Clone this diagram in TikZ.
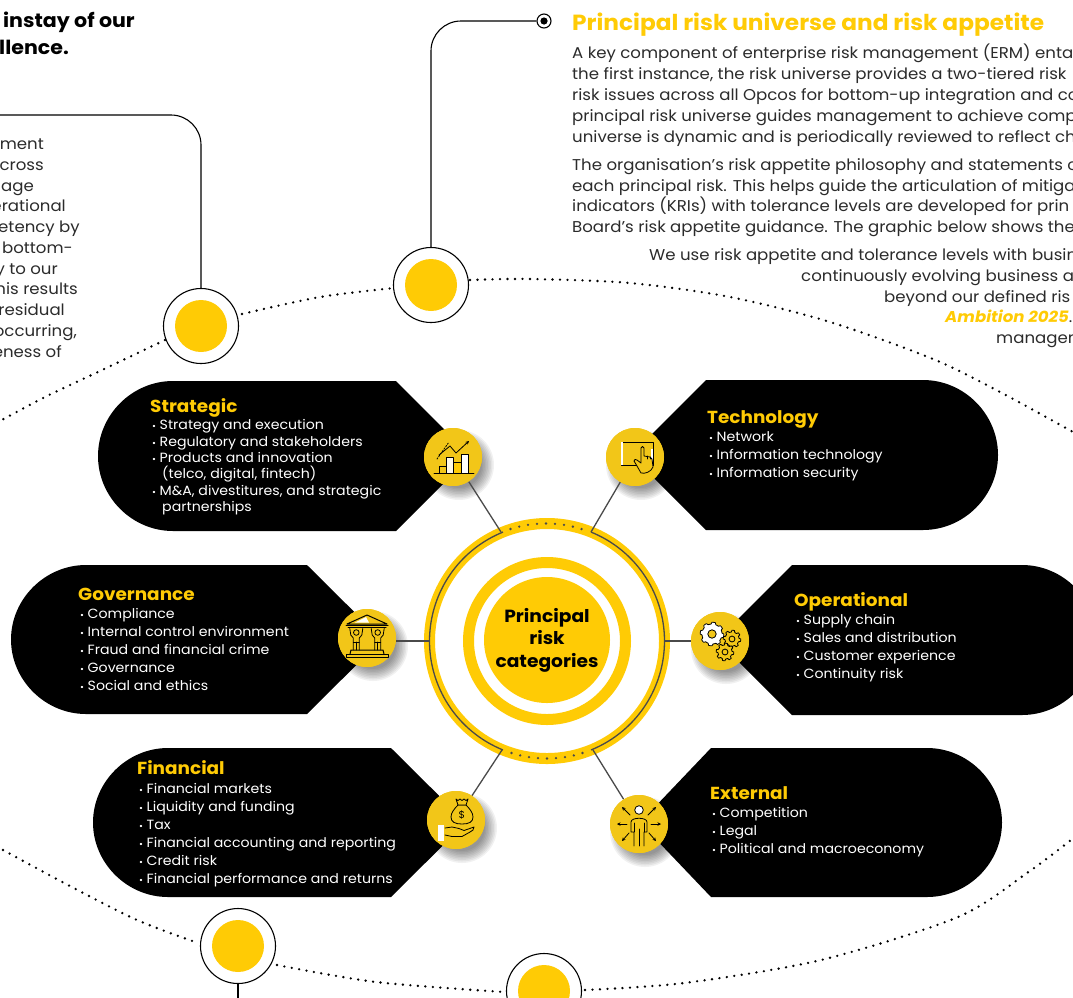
\documentclass[tikz,border=0pt]{standalone}
\usepackage{fontspec}
\setmainfont[FakeStretch=1.06]{Poppins}
\usetikzlibrary{arrows.meta}
\definecolor{ky}{HTML}{FFCB05}
\definecolor{kicon}{HTML}{F2C618}
\definecolor{bodyc}{HTML}{2B2B2B}
\definecolor{conn}{HTML}{4A4A4A}
\newcommand\fs[2]{\fontsize{#1pt}{#2pt}\selectfont}
\newcommand\bul{\makebox[7.5pt][l]{\fontsize{9pt}{9pt}\selectfont •}}
\newcommand\blobL[5]{% corner x, top, bottom, tip x, round-centre x
  \fill[black] (#1,#2) -- (#4,{(#2+#3)/2}) -- (#1,#3) -- (#5,#3)
    .. controls ({#5-41},#3) and ({#5-75},{#3-34}) .. ({#5-75},{(#2+#3)/2})
    .. controls ({#5-75},{#2+34}) and ({#5-41},#2) .. (#5,#2) -- cycle;}
\newcommand\blobR[5]{%
  \fill[black] (#1,#2) -- (#4,{(#2+#3)/2}) -- (#1,#3) -- (#5,#3)
    .. controls ({#5+41},#3) and ({#5+75},{#3-34}) .. ({#5+75},{(#2+#3)/2})
    .. controls ({#5+75},{#2+34}) and ({#5+41},#2) .. (#5,#2) -- cycle;}
\newcommand\softshadow[2]{%
  \foreach \rr in {23,24.5,...,36}{\fill[black,opacity=0.055] ({#1+6},{#2+8}) circle[radius=\rr];}}
\newcommand\gear[4]{% x,y,r,fill
  \draw[icon,fill=#4] plot[domain=0:360,samples=65] ({#1+(#3+(mod(\x,45)<22.5?1.8:0))*cos(\x)},{#2+(#3+(mod(\x,45)<22.5?1.8:0))*sin(\x)}) -- cycle;
  \draw[icon,fill=kicon] (#1,#2) circle[radius={#3*0.42}];}
\tikzset{
  x=1pt,y=-1pt,
  body/.style={anchor=base west,inner sep=0pt,text=bodyc,font=\fs{15.65}{18}},
  bodyr/.style={anchor=base east,inner sep=0pt,text=bodyc,font=\fs{15.65}{18}},
  heading/.style={anchor=base east,inner sep=0pt,text=black,font=\fs{19.4}{22}\bfseries},
  cattitle/.style={anchor=base west,inner sep=0pt,text=ky,font=\fs{17.4}{20}\bfseries},
  item/.style={anchor=base west,inner sep=0pt,text=white,font=\fs{13.35}{16}},
  hub/.style={circle,draw=black,fill=white,line width=1.1pt,minimum size=75pt,inner sep=0pt},
  hubdisc/.style={circle,fill=ky,minimum size=52pt,inner sep=0pt},
  catdisc/.style={circle,fill=kicon,minimum size=58pt,inner sep=0pt},
  thread/.style={draw=black,line width=1.1pt,rounded corners=30pt},
  dotline/.style={draw=black,line width=2.6pt,line cap=round,dash pattern=on 0pt off 7.5pt},
  spoke/.style={draw=conn,line width=1.3pt},
  icon/.style={draw=black,line width=0.8pt,line join=round,line cap=round},
  iconarrow/.style={icon,-{Stealth[length=3.5pt,width=3.5pt]}},
}
\begin{document}
\begin{tikzpicture}
\clip (0,0) rectangle (1073,997);
\fill[white] (0,0) rectangle (1073,997);

% dotted orbit
\draw[dotline] plot[smooth] coordinates {(165,340) (100,371) (45,397) (0,421)};
\draw[dotline] plot[smooth] coordinates {(242,314) (320,297) (394,288)};
\draw[dotline] plot[smooth] coordinates {(470,280) (530,279) (630,283) (730,297) (830,322) (933,359) (1000,392) (1073,432)};
\draw[dotline] plot[smooth] coordinates {(3,850) (68,885) (137,920) (198,943)};
\draw[dotline] plot[smooth] coordinates {(277,965) (376,982) (504,992)};
\draw[dotline] plot[smooth] coordinates {(585,990) (684,983) (821,960) (958,917) (1027,873) (1071,840)};

% hubs on the orbit
\node[hub] (h1) at (201,326) {};
\node[hub] (h2) at (431,285) {};
\node[hub] (h3) at (238,946) {};
\node[hub] (h4) at (544,991) {};
\node[hubdisc] at (h1) {};
\node[hubdisc] at (h2) {};
\node[hubdisc] at (h3) {};
\node[hubdisc] at (h4) {};

% threads
\node[circle,draw=black,fill=white,line width=1.1pt,minimum size=14pt,inner sep=0pt] (target) at (544,21) {};
\fill[black] (target.center) circle[radius=3.6];
\coordinate (leftend) at (-5,115);
\coordinate (botend) at (238,1005);
\draw[thread] (h2.north) -- (h2.north |- target.west) -- (target.west);
\draw[thread] (h1.north) -- (h1.north |- leftend) -- (leftend);
\draw[thread] (h3.south) -- (botend);

% texts, top
\node[heading] (hd1) at (135,27) {instay of our};
\node[heading] (hd2) at (69,54) {llence.};
\node[anchor=base west,inner sep=0pt,text=ky,font=\fs{21.9}{24}\bfseries] (title) at (572,30) {Principal risk universe and risk appetite};

\node[body] (p1) at (572,58) {A key component of enterprise risk management (ERM) enta};
\node[body] (p2) at (572,79) {the first instance, the risk universe provides a two-tiered risk};
\node[body] (p3) at (572,100) {risk issues across all Opcos for bottom-up integration and co};
\node[body] (p4) at (572,121) {principal risk universe guides management to achieve comp};
\node[body] (p5) at (572,142) {universe is dynamic and is periodically reviewed to reflect ch};
\node[body] (p6) at (572,170) {The organisation’s risk appetite philosophy and statements o};
\node[body] (p7) at (572,191) {each principal risk. This helps guide the articulation of mitiga};
\node[body] (p8) at (572,211) {indicators (KRIs) with tolerance levels are developed for prin};
\node[body] (p9) at (572,232) {Board’s risk appetite guidance. The graphic below shows the};
\node[body] (q1) at (649,260) {We use risk appetite and tolerance levels with busin};
\node[body] (q2) at (801,281) {continuously evolving business a};
\node[body] (q3) at (884,302) {beyond our defined ris};
\node[body] (q4) at (945,322) {\textcolor{ky}{\bfseries\itshape Ambition 2025}.};
\node[body] (q5) at (996,343) {managem};

\node[bodyr] (l1) at (44,149) {ement};
\node[bodyr] (l2) at (44,170) {cross};
\node[bodyr] (l3) at (34,191) {nage};
\node[bodyr] (l4) at (66,211) {erational};
\node[bodyr] (l5) at (80,232) {etency by};
\node[bodyr] (l6) at (73,253) {l bottom-};
\node[bodyr] (l7) at (58,274) {y to our};
\node[bodyr] (l8) at (78,294) {his results};
\node[bodyr] (l9) at (65,315) {residual};
\node[bodyr] (l10) at (77,336) {occurring,};
\node[bodyr] (l11) at (62,357) {eness of};

% category blobs
\blobL{396}{381}{531}{471}{173}
\blobR{706}{380}{530}{631}{923}
\blobL{307}{565}{714}{382}{86}
\blobR{792}{565}{715}{717}{1022}
\blobL{391}{748}{897}{466}{168}
\blobR{711}{748}{897}{640}{927}

% central rings
\node[circle,draw=ky,line width=11pt,fill=white,minimum size=235pt,inner sep=0pt] (ring) at (547,641) {};
\node[circle,draw=ky,line width=11pt,fill=white,minimum size=157pt,inner sep=0pt] (ring2) at (547,641) {};
\node[circle,fill=ky,minimum size=126pt,inner sep=0pt,align=center,font=\fs{17.6}{22.5}\bfseries,text=black] (core) at (547,640) {Principal\\risk\\categories};

% thin ring and dots
\draw[conn,line width=1.3pt] plot[domain=-68:68,samples=70] ({547+117.5*cos(\x)},{641+117.5*sin(\x)});
\draw[conn,line width=1.3pt] plot[domain=112:248,samples=70] ({547+117.5*cos(\x)},{641+117.5*sin(\x)});
\foreach \a in {-4,...,4}{
  \fill[conn] ({546+117.5*sin(\a*4.4)},{641-117.5*cos(\a*4.4)}) circle[radius=1.3];
  \fill[conn] ({547+117.5*sin(\a*4.4)},{641+117.5*cos(\a*4.4)}) circle[radius=1.3];
}

% shadows
\softshadow{453}{457}
\softshadow{635}{457}
\softshadow{367}{638}
\softshadow{720}{641}
\softshadow{456}{820}
\softshadow{639}{824}

% icon discs
\node[catdisc] (cs) at (453,457) {};
\node[catdisc] (ct) at (635,457) {};
\node[catdisc] (cg) at (367,638) {};
\node[catdisc] (co) at (720,641) {};
\node[catdisc] (cf) at (456,820) {};
\node[catdisc] (ce) at (639,824) {};

% ring anchors and spokes
\coordinate (rs) at (501,532);
\coordinate (rt) at (591,532);
\coordinate (rg) at (429,641);
\coordinate (ro) at (665,641);
\coordinate (rf) at (502,750);
\coordinate (re) at (593,750);
\draw[spoke] (cs) -- (rs);
\draw[spoke] (ct) -- (rt);
\draw[spoke] (cg.east |- rg) -- (rg);
\draw[spoke] (co) -- (ro);
\draw[spoke] (cf) -- (rf);
\draw[spoke] (ce) -- (re);
\node[catdisc] at (cs) {};
\node[catdisc] at (ct) {};
\node[catdisc] at (cg) {};
\node[catdisc] at (co) {};
\node[catdisc] at (cf) {};
\node[catdisc] at (ce) {};

% --- strategic icon
\begin{scope}[shift={(453,457)}]
  \draw[icon,fill=kicon] (-14,16) rectangle (-7,9);
  \draw[icon,fill=white!90!kicon] (-7,16) rectangle (0.7,0);
  \draw[icon,fill=ky] (0.7,16) rectangle (8,5);
  \draw[icon,fill=white] (8,16) rectangle (15,-3);
  \draw[icon] (-19,16) -- (21,16);
  \draw[iconarrow] (-14,-2) -- (-3,-11) -- (3,-4) -- (16,-16);
  \draw[icon,dashed,dash pattern=on 1.5pt off 1.5pt] (-16,2) -- (-4,-15);
\end{scope}
% --- technology icon
\begin{scope}[shift={(635,457)}]
  \draw[icon] (-14,-15) rectangle (18,8);
  \fill[white] (-13.6,-14.6) rectangle (-12,7.6);
  \fill[white] (16.4,-8) rectangle (17.6,7.6);
  \draw[icon,fill=kicon] (6,-9) .. controls (6,-11) and (9,-11) .. (9,-9) -- (9,-1) -- (15,0) -- (17,2) -- (18,10) .. controls (16,15) and (10,17) .. (6,16) -- (2,9) -- (-1,4) .. controls (-1,2) and (1,2) .. (2,3) -- (6,6) -- cycle;
  \draw[icon] (12,-1) -- (12,2);
  \draw[icon] (15,0) -- (15,2);
\end{scope}
% --- governance icon
\begin{scope}[shift={(367,638)}]
  \draw[icon,fill=kicon,line width=1pt] (0,-23) -- (-20,-14) -- (20,-14) -- cycle;
  \fill[white] (-1,-21) -- (-12,-15.5) -- (2,-15.5) -- cycle;
  \draw[icon,line width=1pt] (-21,-13) -- (21,-13);
  \draw[icon,line width=1pt] (-19,-10.5) -- (19,-10.5);
  \foreach \s in {-1,1}{
    \draw[icon,fill=kicon] ({\s*10.7},-5.5) circle[radius=2.8];
    \draw[icon] ({\s*10.7-6.5},-9.5) -- ({\s*10.7-5.5},-3) -- ({\s*10.7-3},0) -- ({\s*10.7-3},12);
    \draw[icon] ({\s*10.7+6.5},-9.5) -- ({\s*10.7+5.5},-3) -- ({\s*10.7+3},0) -- ({\s*10.7+3},12);
    \draw[icon] ({\s*10.7-3},4) -- ({\s*10.7+3},4);
    \draw[icon] ({\s*10.7},4) -- ({\s*10.7},12);
  }
  \draw[icon,line width=1pt] (-17,16) -- (-16,12) -- (16,12) -- (17,16);
  \draw[icon,line width=1pt] (-21,19.5) rectangle (21,16);
\end{scope}
% --- operational icon
\begin{scope}[shift={(720,641)}]
  \gear{12}{-2}{7}{kicon}
  \gear{5}{11}{7}{kicon}
  \gear{-8}{-7}{10}{white}
\end{scope}
% --- financial icon
\begin{scope}[shift={(456,820)}]
  \draw[icon,fill=kicon] (2,-15) .. controls (-2,-11) and (-5,-7) .. (-5,-3) .. controls (-5,2) and (-1,4) .. (6,4) .. controls (13,4) and (17,2) .. (17,-3) .. controls (17,-7) and (14,-11) .. (10,-15) -- cycle;
  \draw[icon,fill=kicon] (0,-21) -- (2,-19.5) -- (4,-21) -- (6,-19.5) -- (8,-21) -- (10,-19.5) -- (12,-21) -- (10,-15) -- (2,-15) -- cycle;
  \node[inner sep=0pt,text=black,font=\fs{10}{10}] (dollar) at (6,-5) {\$};
  \draw[icon] (-11,8) -- (-4,7) -- (3,8.5) -- (8,10.5) -- (18,7) .. controls (18.5,9.5) and (16,11) .. (14,12) -- (6,16.5) -- (-4,16.5) -- (-11,15);
  \fill[white] (-18,5) rectangle (-12,21);
\end{scope}
% --- external icon
\begin{scope}[shift={(639,824)}]
  \draw[icon,fill=white] (0,-14) circle[radius=4.3];
  \draw[icon] (-5,22) -- (-5,8) -- (-8,8) -- (-8,-2) .. controls (-8,-7) and (8,-7) .. (8,-2) -- (8,8) -- (5,8) -- (5,22);
  \draw[icon] (0,5) -- (0,22);
  \draw[icon] (-5,-1) -- (-5,8);
  \draw[icon] (5,-1) -- (5,8);
  \draw[iconarrow] (-12,0) -- (-22,0);
  \draw[iconarrow] (12,0) -- (22,0);
  \draw[iconarrow] (-9,-9) -- (-17,-17);
  \draw[iconarrow] (9,-9) -- (17,-17);
  \draw[iconarrow] (-10,9) -- (-17,17);
  \draw[iconarrow] (10,9) -- (17,17);
\end{scope}

% category texts
\node[cattitle] (ts) at (150,412) {Strategic};
\node[item] (s1) at (152,429) {\bul Strategy and execution};
\node[item] (s2) at (152,446) {\bul Regulatory and stakeholders};
\node[item] (s3) at (152,462) {\bul Products and innovation};
\node[item] (s4) at (162,478) {(telco, digital, fintech)};
\node[item] (s5) at (152,495) {\bul M\&A, divestitures, and strategic};
\node[item] (s6) at (162,511) {partnerships};

\node[cattitle] (tt) at (707,423) {Technology};
\node[item] (t1) at (709,441) {\bul Network};
\node[item] (t2) at (709,459) {\bul Information technology};
\node[item] (t3) at (709,477) {\bul Information security};

\node[cattitle] (tg) at (78,600) {Governance};
\node[item] (g1) at (80,618) {\bul Compliance};
\node[item] (g2) at (80,636) {\bul Internal control environment};
\node[item] (g3) at (80,654) {\bul Fraud and financial crime};
\node[item] (g4) at (80,672) {\bul Governance};
\node[item] (g5) at (80,690) {\bul Social and ethics};

\node[cattitle] (to) at (794,606) {Operational};
\node[item] (o1) at (796,624) {\bul Supply chain};
\node[item] (o2) at (796,642) {\bul Sales and distribution};
\node[item] (o3) at (796,660) {\bul Customer experience};
\node[item] (o4) at (796,678) {\bul Continuity risk};

\node[cattitle] (tf) at (137,774) {Financial};
\node[item] (f1) at (139,793) {\bul Financial markets};
\node[item] (f2) at (139,811) {\bul Liquidity and funding};
\node[item] (f3) at (139,829) {\bul Tax};
\node[item] (f4) at (139,847) {\bul Financial accounting and reporting};
\node[item] (f5) at (139,865) {\bul Credit risk};
\node[item] (f6) at (139,883) {\bul Financial performance and returns};

\node[cattitle] (te) at (710,799) {External};
\node[item] (e1) at (712,817) {\bul Competition};
\node[item] (e2) at (712,835) {\bul Legal};
\node[item] (e3) at (712,853) {\bul Political and macroeconomy};
\end{tikzpicture}
\end{document}
